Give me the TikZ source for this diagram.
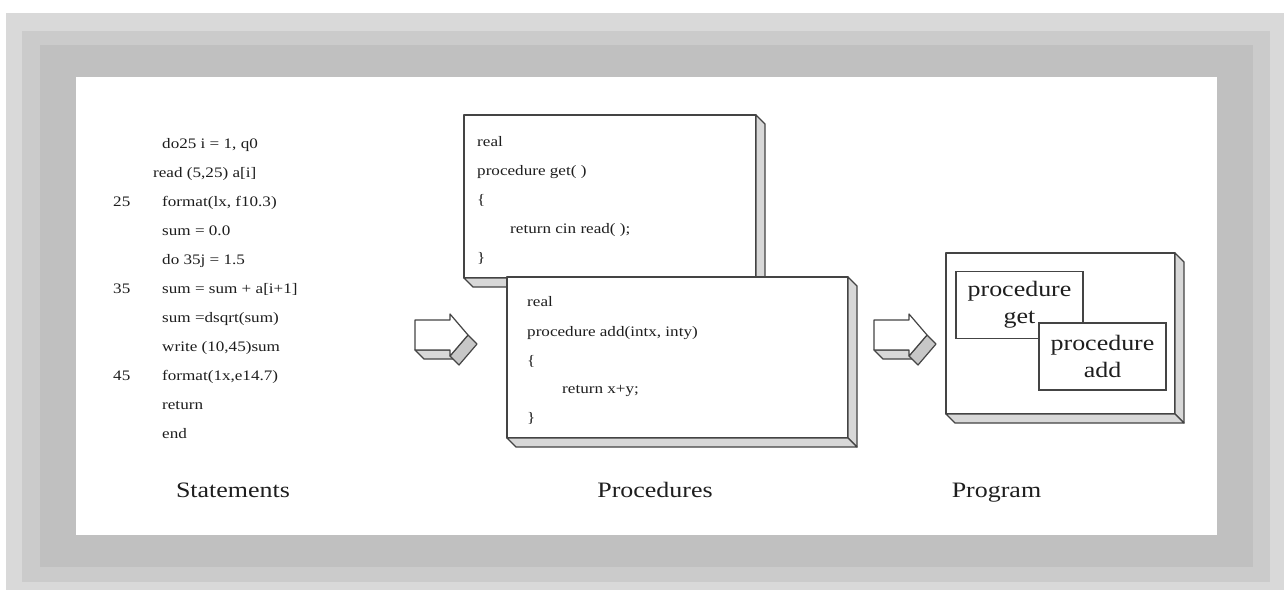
\documentclass[tikz,border=0pt]{standalone}
\usepackage{fontspec}
\setmainfont{Liberation Serif}[FakeStretch=1.18]
\definecolor{frameA}{HTML}{D9D9D9}
\definecolor{frameB}{HTML}{CBCBCB}
\definecolor{frameC}{HTML}{C0C0C0}
\definecolor{ink}{HTML}{1E1E1E}
\definecolor{edge}{HTML}{444444}
\definecolor{sidegray}{HTML}{D8D8D8}

\newcommand{\slabsides}[1]{%
  \filldraw[side] (#1.north east) -- ++(9,9) -- ([shift={(9,9)}]#1.south east) -- (#1.south east) -- cycle;
  \filldraw[side] (#1.south west) -- ++(9,9) -- ([shift={(9,9)}]#1.south east) -- (#1.south east) -- cycle;}

\newcommand{\fatarrow}[2]{%
  \coordinate (#1) at #2;
  \filldraw[side] ([shift={(0,30)}]#1) -- ++(35,0) -- ++(9,9) -- ++(-35,0) -- cycle;
  \filldraw[side, fill=black!22] ([shift={(35,36)}]#1) -- ++(18,-21) -- ++(9,9) -- ++(-18,21) -- cycle;
  \filldraw[face] (#1) -- ++(35,0) -- ++(0,-6) -- ++(18,21) -- ++(-18,21) -- ++(0,-6) -- ++(-35,0) -- cycle;}

\begin{document}
\begin{tikzpicture}[x=1pt, y=-1pt,
  code/.style={anchor=base west, inner sep=0pt, text=ink, font=\fontsize{14.5}{17}\selectfont},
  caption/.style={anchor=base, inner sep=0pt, text=ink, font=\fontsize{22}{26}\selectfont},
  face/.style={draw=edge, line width=1.2pt, fill=white, line join=round},
  side/.style={draw=edge, line width=1.2pt, fill=sidegray, line join=round},
  slab/.style={face, rectangle, outer sep=0pt, inner sep=0pt},
  part/.style={draw=edge, line width=1.2pt, fill=white, rectangle, outer sep=0pt,
    minimum width=127, minimum height=67, align=center, text=ink,
    font=\fontsize{22}{27}\selectfont}]
\useasboundingbox (0,0) rectangle (1284,590);
\fill[frameA] (6,13) rectangle (1284,590);
\fill[frameB] (22,31) rectangle (1270,582);
\fill[frameC] (40,45) rectangle (1253,567);
\fill[white] (76,77) rectangle (1217,535);

\node[code] (s1) at (162,148) {do25 i = 1, q0};
\node[code] (s2) at (153,177) {read (5,25) a[i]};
\node[code] (n25) at (113,206) {25};
\node[code] (s3) at (162,206) {format(lx, f10.3)};
\node[code] (s4) at (162,235) {sum = 0.0};
\node[code] (s5) at (162,264) {do 35j = 1.5};
\node[code] (n35) at (113,293) {35};
\node[code] (s6) at (162,293) {sum = sum + a[i+1]};
\node[code] (s7) at (162,322) {sum =dsqrt(sum)};
\node[code] (s8) at (162,351) {write (10,45)sum};
\node[code] (n45) at (113,380) {45};
\node[code] (s9) at (162,380) {format(1x,e14.7)};
\node[code] (s10) at (162,409) {return};
\node[code] (s11) at (162,438) {end};

\fatarrow{arrA}{(415,320)}

\node[slab, minimum width=292, minimum height=163] (getbox) at (610,196.5) {};
\slabsides{getbox}
\node[code] (g1) at (477,146) {real};
\node[code] (g2) at (477,175) {procedure get( )};
\node[code] (g3) at (477,204) {\{};
\node[code] (g4) at (510,233) {return cin read( );};
\node[code] (g5) at (477,262) {\}};

\node[slab, minimum width=341, minimum height=161] (addbox) at (677.5,357.5) {};
\slabsides{addbox}
\node[code] (a1) at (527,306) {real};
\node[code] (a2) at (527,336) {procedure add(intx, inty)};
\node[code] (a3) at (527,365) {\{};
\node[code] (a4) at (562,393) {return x+y;};
\node[code] (a5) at (527,422) {\}};

\fatarrow{arrB}{(874,320)}

\node[slab, minimum width=229, minimum height=161] (progbox) at (1060.5,333.5) {};
\slabsides{progbox}
\node[part] (pget) at (1019.5,305) {procedure\\get};
\node[part] (padd) at (1102.5,356.5) {procedure\\add};

\node[caption] (lstat) at (233,497) {Statements};
\node[caption] (lproc) at (655,497) {Procedures};
\node[caption] (lprog) at (996.5,497) {Program};
\end{tikzpicture}
\end{document}
